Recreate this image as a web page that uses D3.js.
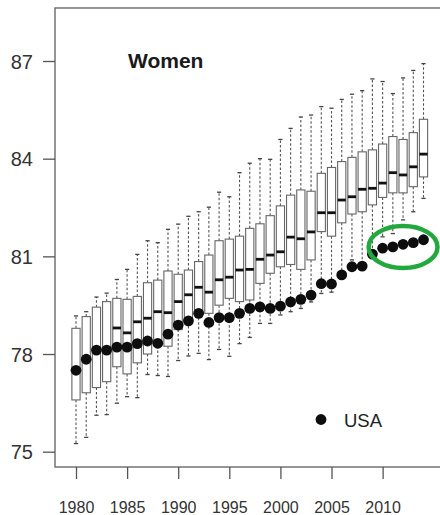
<!DOCTYPE html>
<html>
<head>
<meta charset="utf-8">
<script src="https://cdn.jsdelivr.net/npm/d3@7"></script>
<style>
  html, body { margin: 0; padding: 0; background: #fff; }
  svg { display: block; font-family: "Liberation Sans", Arial, sans-serif; }
</style>
</head>
<body>
<svg id="chart" width="440" height="515"></svg>
<script>
const years = d3.range(1980, 2015);
const whiskerLow = [75.25, 75.44, 76.12, 76.14, 76.49, 76.69, 76.66, 77.37, 77.34, 77.31,
  77.80, 77.94, 78.02, 77.83, 78.14, 77.93, 78.32, 78.51, 78.94, 78.94,
  79.20, 79.30, 79.40, 79.60, 79.86, 79.90, 80.30, 80.89, 80.80, 81.00,
  81.60, 81.70, 82.12, 82.37, 82.78];
const q1 = [76.59, 76.81, 76.97, 77.15, 77.61, 77.39, 77.73, 78.00, 78.25, 78.24,
  78.75, 79.00, 79.25, 79.25, 79.50, 79.71, 79.61, 79.66, 80.17, 80.48,
  80.68, 80.75, 80.60, 80.89, 81.76, 81.62, 82.03, 82.30, 82.37, 82.58,
  82.81, 82.95, 82.95, 83.14, 83.44];
const medians = [77.55, 77.90, 78.10, 78.10, 78.80, 78.65, 78.99, 79.10, 79.30, 79.27,
  79.61, 79.82, 80.05, 79.90, 80.28, 80.36, 80.58, 80.60, 80.91, 81.04,
  81.14, 81.59, 81.54, 81.75, 82.34, 82.34, 82.73, 82.83, 83.06, 83.09,
  83.25, 83.57, 83.50, 83.75, 84.14];
const q3 = [78.79, 79.15, 79.44, 79.61, 79.71, 79.68, 79.77, 80.19, 80.27, 80.55,
  80.45, 80.58, 80.84, 81.04, 81.48, 81.53, 81.62, 81.86, 82.00, 82.25,
  82.55, 82.88, 83.04, 83.00, 83.55, 83.73, 83.91, 84.04, 84.21, 84.27,
  84.45, 84.68, 84.59, 84.80, 85.21];
const whiskerHigh = [79.17, 79.30, 79.75, 79.87, 80.29, 80.60, 81.06, 81.48, 81.42, 81.83,
  81.99, 82.23, 82.37, 82.51, 82.97, 82.83, 83.57, 83.86, 84.00, 83.98,
  84.59, 84.93, 85.28, 85.34, 85.60, 85.55, 85.82, 85.98, 86.09, 86.45,
  86.37, 86.00, 86.48, 86.71, 86.92];
const usa = [77.50, 77.84, 78.12, 78.12, 78.21, 78.21, 78.32, 78.40, 78.33, 78.61,
  78.89, 79.02, 79.25, 78.97, 79.12, 79.12, 79.25, 79.40, 79.45, 79.40,
  79.47, 79.60, 79.68, 79.81, 80.16, 80.15, 80.43, 80.68, 80.70, 81.07,
  81.25, 81.29, 81.37, 81.42, 81.51];
const yTicks = [75, 78, 81, 84, 87];
const xTicks = [1980, 1985, 1990, 1995, 2000, 2005, 2010];
const titleText = "Women";
const legendLabel = "USA";
const highlightYears = [2010, 2014];

const svg = d3.select("#chart");
const x = d3.scaleLinear().domain([1980, 2014]).range([76, 423.5]);
const y = d3.scaleLinear().domain([75, 87]).range([451.7, 61]);

const frame = { left: 55, top: 8, right: 446, bottom: 467 };
const boxW = 8.2, capW = 4.2;

// frame
svg.append("rect")
  .attr("x", frame.left).attr("y", frame.top)
  .attr("width", frame.right - frame.left).attr("height", frame.bottom - frame.top)
  .attr("fill", "none").attr("stroke", "#6a6a6a").attr("stroke-width", 1.4);

// y axis
const yAxis = d3.axisLeft(y).tickValues(yTicks).tickSize(12).tickPadding(10).tickFormat(d3.format("d"));
const gy = svg.append("g").attr("transform", `translate(${frame.left},0)`).call(yAxis);
gy.select(".domain").remove();
gy.selectAll(".tick line").attr("stroke", "#555").attr("stroke-width", 1.3);
gy.selectAll(".tick text").attr("fill", "#333").style("font-size", "20px")
  .attr("x", -22).attr("dy", "0.36em");

// x axis
const xAxis = d3.axisBottom(x).tickValues(xTicks).tickSize(12).tickFormat(d3.format("d"));
const gx = svg.append("g").attr("transform", `translate(0,${frame.bottom})`).call(xAxis);
gx.select(".domain").remove();
gx.selectAll(".tick line").attr("stroke", "#555").attr("stroke-width", 1.3);
gx.selectAll(".tick text").attr("fill", "#333").style("font-size", "16px")
  .attr("y", 46).attr("dy", 0);

const data = years.map((yr, i) => ({
  yr, lo: whiskerLow[i], q1: q1[i], med: medians[i], q3: q3[i], hi: whiskerHigh[i], usa: usa[i]
}));

const g = svg.append("g");
// whiskers
g.selectAll(".wu").data(data).join("line")
  .attr("x1", d => x(d.yr)).attr("x2", d => x(d.yr))
  .attr("y1", d => y(d.q3)).attr("y2", d => y(d.hi))
  .attr("stroke", "#555").attr("stroke-width", 1.1).attr("stroke-dasharray", "2.5,2");
g.selectAll(".wl").data(data).join("line")
  .attr("x1", d => x(d.yr)).attr("x2", d => x(d.yr))
  .attr("y1", d => y(d.q1)).attr("y2", d => y(d.lo))
  .attr("stroke", "#555").attr("stroke-width", 1.1).attr("stroke-dasharray", "2.5,2");
// caps
g.selectAll(".cu").data(data).join("line")
  .attr("x1", d => x(d.yr) - capW / 2).attr("x2", d => x(d.yr) + capW / 2)
  .attr("y1", d => y(d.hi)).attr("y2", d => y(d.hi))
  .attr("stroke", "#444").attr("stroke-width", 1.3);
g.selectAll(".cl").data(data).join("line")
  .attr("x1", d => x(d.yr) - capW / 2).attr("x2", d => x(d.yr) + capW / 2)
  .attr("y1", d => y(d.lo)).attr("y2", d => y(d.lo))
  .attr("stroke", "#444").attr("stroke-width", 1.3);
// boxes
g.selectAll(".box").data(data).join("rect")
  .attr("x", d => x(d.yr) - boxW / 2).attr("width", boxW)
  .attr("y", d => y(d.q3)).attr("height", d => y(d.q1) - y(d.q3))
  .attr("fill", "#fff").attr("stroke", "#666").attr("stroke-width", 1.1);
// medians
g.selectAll(".med").data(data).join("line")
  .attr("x1", d => x(d.yr) - boxW / 2).attr("x2", d => x(d.yr) + boxW / 2)
  .attr("y1", d => y(d.med)).attr("y2", d => y(d.med))
  .attr("stroke", "#111").attr("stroke-width", 2.8);
// USA dots
g.selectAll(".usa").data(data).join("circle")
  .attr("cx", d => x(d.yr)).attr("cy", d => y(d.usa)).attr("r", 5.4)
  .attr("fill", "#0d0d0d");

// highlight ellipse around recent USA values
const hi0 = data.find(d => d.yr === highlightYears[0]);
const hi1 = data.find(d => d.yr === highlightYears[1]);
const ex0 = x(hi0.yr) - 14, ex1 = x(hi1.yr) + 14;
const eyMid = (y(hi0.usa) + y(hi1.usa)) / 2 + 3;
svg.append("ellipse")
  .attr("cx", (ex0 + ex1) / 2).attr("cy", eyMid)
  .attr("rx", (ex1 - ex0) / 2).attr("ry", 21)
  .attr("fill", "none").attr("stroke", "#22a83c").attr("stroke-width", 4.5);

// title
svg.append("text").attr("x", 128).attr("y", 68)
  .style("font-size", "21px").style("font-weight", "bold").attr("fill", "#1a1a1a")
  .text(titleText);

// legend
svg.append("circle").attr("cx", 321).attr("cy", 419.5).attr("r", 5.4).attr("fill", "#0d0d0d");
svg.append("text").attr("x", 344).attr("y", 426.5)
  .style("font-size", "18.5px").attr("fill", "#222").text(legendLabel);
</script>
</body>
</html>
